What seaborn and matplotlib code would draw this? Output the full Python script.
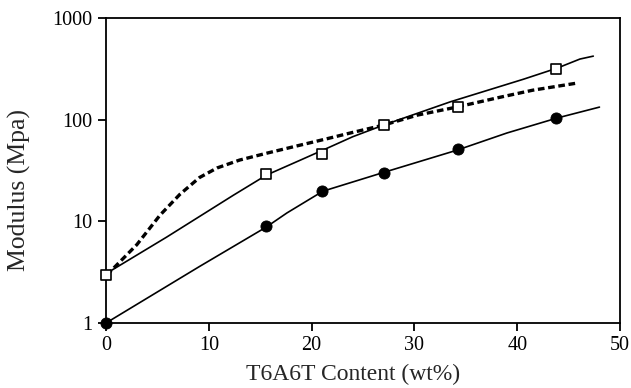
import numpy as np
import pandas as pd
import matplotlib
matplotlib.use("Agg")
import matplotlib.pyplot as plt
import seaborn as sns

sns.set_style("ticks")
plt.rcParams['font.family'] = ['Liberation Serif', 'DejaVu Serif']

# Measured data points
content = [0, 15.6, 21.0, 27.0, 34.2, 43.8]
modulus_square = [3.0, 29.5, 46.0, 89.0, 133.0, 318.0]
modulus_circle = [1.0, 9.0, 20.0, 30.0, 51.0, 104.0]

# Model curve (solid, upper)
top_x = [0, 0.1, 5.9, 12.4, 15.6, 18.9, 21.8, 24.0, 27, 33.5, 40.6, 43.9, 46.1, 47.4]
top_y = [3.0, 3.1, 7.0, 18.1, 28.5, 40.0, 54.0, 68.0, 88.5, 150.0, 250.0, 322.0, 395.0, 422.0]

# Dashed curve
dash_x = [0, 0.4, 3.0, 5.25, 7.2, 9.1, 10.8, 13.0, 15.7, 18.5, 21.5, 24.0, 27, 30.3, 34.1, 38.3, 41.5, 45.8]
dash_y = [3.0, 3.2, 5.9, 11.5, 18.5, 27.0, 33.5, 40.1, 47.0, 55.0, 65.0, 75.0, 88.5, 111.0, 133.0, 166.0, 195.0, 229.0]

# Lower solid curve
low_x = [0, 9.1, 15.6, 17.6, 19.8, 21.1, 27.1, 34.1, 39.0, 43.9, 48]
low_y = [1.0, 3.6, 8.8, 12.1, 16.5, 19.8, 30.5, 50.0, 74.0, 104.0, 133.0]

fig = plt.figure(figsize=(6.31, 3.88), dpi=100)
ax = fig.add_axes([0.168, 0.1675, 0.8146, 0.786])

sns.lineplot(x=top_x, y=top_y, ax=ax, color='black', lw=1.2, sort=False)
sns.lineplot(x=dash_x, y=dash_y, ax=ax, color='black', lw=2.4, sort=False,
             linestyle=(0, (2.0, 1.1)))
sns.lineplot(x=low_x, y=low_y, ax=ax, color='black', lw=1.2, sort=False)

sns.scatterplot(x=content, y=modulus_square, ax=ax, marker='s', s=44,
                facecolor='white', edgecolor='black', linewidth=1.2, zorder=5, clip_on=False)
sns.scatterplot(x=content, y=modulus_circle, ax=ax, marker='o', s=64,
                color='black', edgecolor='black', zorder=5, clip_on=False)

ax.set_yscale('log')
ax.set_xlim(0, 50)
ax.set_ylim(1, 1000)
ax.set_xticks([0, 10, 20, 30, 40, 50])
ax.set_yticks([1, 10, 100, 1000])
ax.set_yticklabels(['1', '10', '100', '1000'])
ax.yaxis.set_minor_locator(matplotlib.ticker.NullLocator())
ax.tick_params(axis='both', which='major', labelsize=14.5, direction='out',
               length=6, width=1.3, color='black', labelcolor='black')
for sp in ax.spines.values():
    sp.set_visible(True)
    sp.set_linewidth(1.3)
    sp.set_color('black')

ax.set_xlabel('T6A6T Content (wt%)', fontsize=17)
ax.set_ylabel('Modulus (Mpa)', fontsize=18.5)
ax.xaxis.set_label_coords(0.48, -0.135)
ax.yaxis.set_label_coords(-0.146, 0.436)

fig.savefig('out.png', dpi=100)
